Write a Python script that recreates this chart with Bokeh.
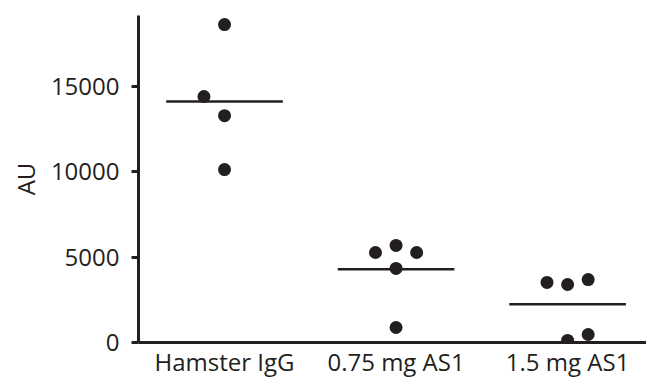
import numpy as np
from bokeh.plotting import figure
from bokeh.models import FixedTicker, Range1d, Title
from bokeh.embed import file_html
from bokeh.resources import INLINE

# ---- data ----
groups = ["Hamster IgG", "0.75 mg AS1", "1.5 mg AS1"]
hamster_igg = [18640, 14420, 13300, 10140]
as1_075 = [5275, 5690, 5275, 4340, 880]
as1_15 = [3520, 3400, 3690, 120, 470]
# horizontal jitter slot of each point (-1 left, 0 centre, +1 right)
hamster_slot = [0, -1, 0, 0]
as1_075_slot = [-1, 0, 1, 0, 0]
as1_15_slot = [-1, 0, 1, 0, 1]
y_ticks = [0, 5000, 10000, 15000]
y_label = "AU"

# ---- style ----
INK = "#231f20"
FONT = "Open Sans"
JITTER = 0.12
HALF = 0.34

series = [hamster_igg, as1_075, as1_15]
slots = [hamster_slot, as1_075_slot, as1_15_slot]

xs, ys = [], []
mx0, mx1, my = [], [], []
for i, (vals, sl) in enumerate(zip(series, slots)):
    c = i + 1
    xs += [c + s * JITTER for s in sl]
    ys += list(vals)
    m = float(np.mean(vals))
    mx0.append(c - HALF)
    mx1.append(c + HALF)
    my.append(m)

p = figure(width=646, height=381, output_backend="svg", toolbar_location=None,
           x_range=Range1d(0.4985, 3.46), y_range=Range1d(0, 19170),
           min_border_left=138, min_border_right=0, min_border_top=15,
           min_border_bottom=39)
p.outline_line_color = None
p.grid.grid_line_color = None
p.background_fill_color = "white"

p.segment(x0=mx0, x1=mx1, y0=my, y1=my, line_color=INK, line_width=2.5)
p.scatter(x=xs, y=ys, size=13, fill_color=INK, line_color=INK, line_width=0)

# y axis
ya = p.yaxis[0]
ya.ticker = FixedTicker(ticks=y_ticks)
ya.minor_tick_line_color = None
ya.major_tick_in = 0
ya.major_tick_out = 7
ya.major_tick_line_width = 3
ya.major_tick_line_color = INK
ya.axis_line_width = 3
ya.axis_line_color = INK
ya.major_label_text_font = FONT
ya.major_label_text_font_size = "24px"
ya.major_label_text_color = INK
ya.major_label_standoff = 12

p.add_layout(Title(text=y_label, align="center", offset=6, standoff=11,
                   text_font=FONT, text_font_size="24px",
                   text_font_style="normal", text_color=INK), "left")

# x axis
xa = p.xaxis[0]
xa.ticker = FixedTicker(ticks=[1, 2, 3])
xa.major_label_overrides = {i + 1: g for i, g in enumerate(groups)}
xa.minor_tick_line_color = None
xa.major_tick_in = 0
xa.major_tick_out = 0
xa.axis_line_width = 3
xa.axis_line_color = INK
xa.major_label_text_font = FONT
xa.major_label_text_font_size = "24px"
xa.major_label_text_color = INK
xa.major_label_standoff = 2

open("out.html", "w").write(file_html(p, INLINE))
